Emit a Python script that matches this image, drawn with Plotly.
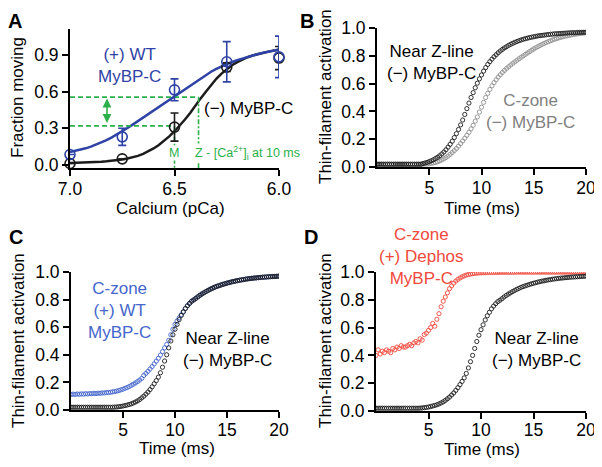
import plotly.graph_objects as go

# The page body adds an 8 px margin, so the figure is 8 px smaller than the window
OFF = 8
W, H = 602 - OFF, 467 - OFF
FONT = "Liberation Sans, Arial, sans-serif"

# ---------------- Panel A data ----------------
pca_points = [7.0, 6.75, 6.5, 6.25, 6.0]
wt_frac = [0.085, 0.23, 0.615, 0.845, 0.885]
wt_err = [0.0, 0.07, 0.09, 0.165, 0.17]
ko_frac = [0.012, 0.05, 0.31, 0.80, 0.875]
ko_err = [0.0, 0.0, 0.115, 0.035, 0.095]

pca_fit = [7.0, 6.975, 6.95, 6.925, 6.9, 6.875, 6.85, 6.825, 6.8, 6.775, 6.75,
           6.725, 6.7, 6.675, 6.65, 6.625, 6.6, 6.575, 6.55, 6.525, 6.5,
           6.475, 6.45, 6.425, 6.4, 6.375, 6.35, 6.325, 6.3, 6.275, 6.25,
           6.225, 6.2, 6.175, 6.15, 6.125, 6.1, 6.075, 6.05, 6.025, 6.0]
wt_fit = [0.105, 0.114, 0.124, 0.136, 0.150, 0.166, 0.184, 0.204, 0.226, 0.250, 0.275,
          0.302, 0.330, 0.359, 0.389, 0.419, 0.449, 0.479, 0.508, 0.536, 0.563,
          0.592, 0.622, 0.652, 0.682, 0.711, 0.738, 0.763, 0.786, 0.807, 0.826,
          0.843, 0.858, 0.872, 0.885, 0.897, 0.908, 0.918, 0.928, 0.937, 0.945]
ko_fit = [0.015, 0.016, 0.018, 0.020, 0.022, 0.024, 0.027, 0.030, 0.034, 0.039, 0.045,
          0.053, 0.062, 0.074, 0.090, 0.110, 0.135, 0.163, 0.196, 0.234, 0.276,
          0.322, 0.372, 0.425, 0.480, 0.545, 0.600, 0.655, 0.705, 0.748, 0.785,
          0.816, 0.842, 0.864, 0.882, 0.897, 0.909, 0.919, 0.928, 0.936, 0.943]

guide_frac_Z = 0.555
guide_frac_M = 0.32
guide_pca_M = 6.5
guide_pca_Z = 6.385
guide_pca_arrow = 6.823
axis_bottom_A = -0.025

# ---------------- Panels B-D data (sampled every 0.2 ms from 0 ms) ----------------
zline_B = [0.02] * 22 + [
    0.025, 0.029, 0.033, 0.039, 0.045, 0.052, 0.061, 0.070, 0.081, 0.094,
    0.108, 0.124, 0.143, 0.163, 0.186, 0.212, 0.240, 0.270, 0.303, 0.338,
    0.378, 0.420, 0.460, 0.500, 0.535, 0.570, 0.603, 0.634, 0.662, 0.690,
    0.715, 0.738, 0.758, 0.776, 0.793, 0.808, 0.822, 0.835, 0.846, 0.857,
    0.866, 0.875, 0.883, 0.890, 0.897, 0.903, 0.909, 0.914, 0.919, 0.923,
    0.927, 0.931, 0.934, 0.937, 0.940, 0.943, 0.945, 0.947, 0.949, 0.951,
    0.953, 0.955, 0.956, 0.958, 0.959, 0.960, 0.961, 0.962, 0.963, 0.964,
    0.965, 0.966, 0.966, 0.967, 0.968, 0.968, 0.969, 0.969, 0.970]

czone_ko_B = [0.02] * 23 + [
    0.021, 0.022, 0.024, 0.026, 0.029, 0.033, 0.038, 0.044, 0.051, 0.059,
    0.068, 0.079, 0.091, 0.104, 0.118, 0.133, 0.150, 0.168, 0.187, 0.207,
    0.228, 0.250, 0.274, 0.300, 0.330, 0.360, 0.395, 0.430, 0.465, 0.500,
    0.530, 0.558, 0.584, 0.607, 0.628, 0.647, 0.664, 0.680, 0.695, 0.709,
    0.722, 0.734, 0.746, 0.757, 0.768, 0.779, 0.790, 0.800, 0.810, 0.820,
    0.830, 0.840, 0.849, 0.858, 0.866, 0.874, 0.882, 0.889, 0.896, 0.902,
    0.908, 0.914, 0.919, 0.924, 0.929, 0.933, 0.937, 0.941, 0.944, 0.947,
    0.950, 0.953, 0.956, 0.958, 0.960, 0.962, 0.964, 0.966]

zline_CD = [0.02] * 21 + [
    0.021, 0.022, 0.024, 0.026, 0.029, 0.032, 0.036, 0.040, 0.045, 0.051,
    0.058, 0.066, 0.076, 0.088, 0.100, 0.115, 0.130, 0.148, 0.168, 0.190,
    0.213, 0.238, 0.270, 0.310, 0.355, 0.400, 0.450, 0.500, 0.545, 0.585,
    0.620, 0.655, 0.685, 0.710, 0.735, 0.755, 0.772, 0.787, 0.797, 0.808,
    0.820, 0.831, 0.841, 0.850, 0.859, 0.867, 0.875, 0.882, 0.889, 0.895,
    0.900, 0.905, 0.910, 0.915, 0.919, 0.923, 0.927, 0.931, 0.934, 0.937,
    0.940, 0.943, 0.945, 0.948, 0.950, 0.952, 0.954, 0.956, 0.957, 0.959,
    0.960, 0.962, 0.963, 0.964, 0.965, 0.966, 0.967, 0.968, 0.969, 0.970]

czone_wt_C = [
    0.112, 0.115, 0.113, 0.116, 0.114, 0.117, 0.115, 0.118, 0.116, 0.119,
    0.118, 0.121, 0.119, 0.122, 0.121, 0.124, 0.123, 0.126, 0.127, 0.129,
    0.131, 0.134, 0.137, 0.141, 0.146, 0.151, 0.157, 0.163, 0.170, 0.178,
    0.187, 0.196, 0.206, 0.217, 0.229, 0.250, 0.265, 0.280, 0.297, 0.315,
    0.334, 0.354, 0.375, 0.398, 0.423, 0.450, 0.475, 0.505, 0.545, 0.585,
    0.620, 0.645, 0.668, 0.690, 0.713, 0.736, 0.757, 0.773, 0.789, 0.799,
    0.810, 0.821, 0.832, 0.842, 0.851, 0.860, 0.868, 0.876, 0.883, 0.890,
    0.896, 0.901, 0.906, 0.911, 0.915, 0.920, 0.924, 0.928, 0.931, 0.935,
    0.938, 0.941, 0.943, 0.946, 0.949, 0.951, 0.953, 0.955, 0.956, 0.958,
    0.959, 0.961, 0.962, 0.963, 0.964, 0.965, 0.966, 0.967, 0.968, 0.969,
    0.970]

dephos_D = [
    0.40, 0.44, 0.41, 0.43, 0.42, 0.44, 0.43, 0.42, 0.45, 0.44,
    0.46, 0.45, 0.47, 0.46, 0.46, 0.47, 0.48, 0.47, 0.49, 0.50,
    0.49, 0.52, 0.51, 0.55, 0.56, 0.58, 0.60, 0.63, 0.61, 0.66,
    0.70, 0.75, 0.79, 0.82, 0.85, 0.88, 0.90, 0.92, 0.935, 0.947,
    0.957, 0.965, 0.972, 0.978, 0.982, 0.985, 0.988, 0.990, 0.992, 0.993,
    0.994, 0.995, 0.995, 0.996, 0.996, 0.997, 0.997, 0.997, 0.997, 0.998,
    0.998, 0.998, 0.998, 0.998, 0.998, 0.998, 0.999, 0.999, 0.999, 0.999,
    0.999, 0.999, 0.999, 0.999, 0.999, 0.999, 0.999, 0.999, 0.999, 0.999,
    0.999, 0.999, 0.999, 0.999, 0.999, 0.999, 0.999, 0.999, 0.999, 0.999,
    0.999, 0.999, 0.999, 0.999, 0.999, 0.999, 0.999, 0.999, 0.999, 0.999,
    0.999]


def times(arr):
    return [round(0.2 * i, 1) for i in range(len(arr))]


BLACK = "#1c1c1c"
GREY = "#8e8e8e"
BLUE_A = "#2f43a6"
BLUE_C = "#4566cc"
RED = "#f04a3c"
GREEN = "#2bb04a"

fig = go.Figure()

# ---- Panel A ----
fig.add_trace(go.Scatter(x=pca_fit, y=ko_fit, mode="lines", line=dict(color=BLACK, width=2.5),
                         xaxis="x", yaxis="y", showlegend=False, hoverinfo="skip"))
fig.add_trace(go.Scatter(x=pca_fit, y=wt_fit, mode="lines", line=dict(color=BLUE_A, width=2.5),
                         xaxis="x", yaxis="y", showlegend=False, hoverinfo="skip"))
# green guides
fig.add_trace(go.Scatter(x=[pca_fit[0], guide_pca_Z], y=[guide_frac_Z, guide_frac_Z], mode="lines",
                         line=dict(color=GREEN, width=1.6, dash="5px,3px"), xaxis="x", yaxis="y",
                         showlegend=False, hoverinfo="skip"))
fig.add_trace(go.Scatter(x=[pca_fit[0], guide_pca_M], y=[guide_frac_M, guide_frac_M], mode="lines",
                         line=dict(color=GREEN, width=1.6, dash="5px,3px"), xaxis="x", yaxis="y",
                         showlegend=False, hoverinfo="skip"))
fig.add_trace(go.Scatter(x=[guide_pca_M, guide_pca_M], y=[guide_frac_M, axis_bottom_A], mode="lines",
                         line=dict(color=GREEN, width=1.6, dash="5px,2px,2px,2px"), xaxis="x", yaxis="y",
                         showlegend=False, hoverinfo="skip"))
fig.add_trace(go.Scatter(x=[guide_pca_Z, guide_pca_Z], y=[guide_frac_Z, axis_bottom_A], mode="lines",
                         line=dict(color=GREEN, width=1.6, dash="5px,2px,2px,2px"), xaxis="x", yaxis="y",
                         showlegend=False, hoverinfo="skip"))
fig.add_trace(go.Scatter(x=pca_points, y=ko_frac, mode="markers",
                         marker=dict(symbol="circle-open", size=10, color=BLACK, line=dict(width=1.6)),
                         error_y=dict(type="data", array=ko_err, color=BLACK, thickness=1.6, width=4),
                         xaxis="x", yaxis="y", showlegend=False, cliponaxis=False))
fig.add_trace(go.Scatter(x=pca_points, y=wt_frac, mode="markers",
                         marker=dict(symbol="circle-open", size=10, color=BLUE_A, line=dict(width=1.6)),
                         error_y=dict(type="data", array=wt_err, color=BLUE_A, thickness=1.6, width=4),
                         xaxis="x", yaxis="y", showlegend=False, cliponaxis=False))

mk = dict(symbol="circle-open", size=4.2, line=dict(width=0.9))

# ---- Panel B ----
fig.add_trace(go.Scatter(x=times(czone_ko_B), y=czone_ko_B, mode="markers",
                         marker=dict(mk, color=GREY), xaxis="x2", yaxis="y2", showlegend=False))
fig.add_trace(go.Scatter(x=times(zline_B), y=zline_B, mode="markers",
                         marker=dict(mk, color=BLACK), xaxis="x2", yaxis="y2", showlegend=False))

# ---- Panel C ----
fig.add_trace(go.Scatter(x=times(czone_wt_C), y=czone_wt_C, mode="markers",
                         marker=dict(mk, color=BLUE_C), xaxis="x3", yaxis="y3", showlegend=False))
fig.add_trace(go.Scatter(x=times(zline_CD), y=zline_CD, mode="markers",
                         marker=dict(mk, color=BLACK), xaxis="x3", yaxis="y3", showlegend=False))

# ---- Panel D ----
fig.add_trace(go.Scatter(x=times(dephos_D), y=dephos_D, mode="markers",
                         marker=dict(mk, color=RED), xaxis="x4", yaxis="y4", showlegend=False))
fig.add_trace(go.Scatter(x=times(zline_CD), y=zline_CD, mode="markers",
                         marker=dict(mk, color=BLACK), xaxis="x4", yaxis="y4", showlegend=False))


# helpers: convert window pixel positions to paper fractions
def px_x(p):
    return (p - OFF) / W


def px_y(p):
    return 1 - (p - OFF) / H


def xdom(a, b):
    return [px_x(a), px_x(b)]


def ydom(top, bottom):
    return [px_y(bottom), px_y(top)]


axis_common = dict(showline=True, linecolor="black", linewidth=2, ticks="outside", ticklen=6,
                   tickwidth=1.8, tickcolor="black", showgrid=False, zeroline=False, automargin=False,
                   tickfont=dict(family=FONT, size=17.5, color="black"), fixedrange=True)
xaxis_top = dict(axis_common, ticklabelstandoff=-2)
xaxis_bot = dict(axis_common, ticklabelstandoff=-3)
xaxis_botD = dict(axis_common, ticklabelstandoff=-4)

fig.update_layout(
    width=W, height=H, autosize=False,
    margin=dict(l=0, r=0, t=0, b=0, pad=0, autoexpand=False),
    showlegend=False,
    paper_bgcolor="white", plot_bgcolor="white",
    font=dict(family=FONT, size=17, color="black"),
    xaxis=dict(xaxis_top, domain=xdom(70, 279), range=[7.0, 6.0], tickvals=[7.0, 6.5, 6.0],
               ticktext=["7.0", "6.5", "6.0"], anchor="y"),
    yaxis=dict(axis_common, domain=ydom(29, 168), range=[axis_bottom_A, 1.113],
               tickvals=[0, 0.3, 0.6, 0.9], ticktext=["0.0", "0.3", "0.6", "0.9"], anchor="x"),
    xaxis2=dict(xaxis_top, domain=xdom(377, 586), range=[0, 20], tickvals=[5, 10, 15, 20], anchor="y2"),
    yaxis2=dict(axis_common, domain=ydom(28, 167), range=[0, 1], tickvals=[0, 0.2, 0.4, 0.6, 0.8, 1.0],
                tickformat=".1f", anchor="x2"),
    xaxis3=dict(xaxis_bot, domain=xdom(71, 279), range=[0, 20], tickvals=[5, 10, 15, 20], anchor="y3"),
    yaxis3=dict(axis_common, domain=ydom(272, 410), range=[0, 1], tickvals=[0, 0.2, 0.4, 0.6, 0.8, 1.0],
                tickformat=".1f", anchor="x3"),
    xaxis4=dict(xaxis_botD, domain=xdom(376, 586), range=[0, 20], tickvals=[5, 10, 15, 20], anchor="y4"),
    yaxis4=dict(axis_common, domain=ydom(272, 411), range=[0, 1], tickvals=[0, 0.2, 0.4, 0.6, 0.8, 1.0],
                tickformat=".1f", anchor="x4"),
)

ann = []


def text(px, py, s, color="black", size=17, angle=0, bold=False, xanchor="center", yanchor="middle", bg=None):
    d = dict(x=px_x(px), y=px_y(py), xref="paper", yref="paper", text=(f"<b>{s}</b>" if bold else s),
             showarrow=False, xanchor=xanchor, yanchor=yanchor, textangle=angle,
             font=dict(family=FONT, size=size, color=color))
    if bg:
        d["bgcolor"] = bg
        d["borderpad"] = 0
    ann.append(d)


# panel letters (top row anchored to the top of the figure so they are not clipped)
text(15, OFF, "A", size=20, bold=True, yanchor="top")
text(307, OFF, "B", size=20, bold=True, yanchor="top")
text(16, 237, "C", size=20, bold=True)
text(311, 237, "D", size=20, bold=True)

# axis titles
text(18, 98, "Fraction moving", angle=-90)
text(170, 208, "Calcium (pCa)")
text(325, 97, "Thin-filament activation", angle=-90)
text(482, 208, "Time (ms)")
text(18, 341, "Thin-filament activation", angle=-90)
text(177, 448, "Time (ms)")
text(325, 341, "Thin-filament activation", angle=-90)
text(482, 449, "Time (ms)")

# panel A labels
text(129, 65, "(+) WT<br>MyBP-C", color=BLUE_A)
text(248, 108, "(−) MyBP-C")
text(174, 153, "M", color=GREEN, size=12.5, bg="white")
text(194, 153, "Z - [Ca<sup>2+</sup>]<sub>i</sub> at 10 ms", color=GREEN, size=12.5, xanchor="left", bg="white")

# panel B labels
text(431, 62, "Near Z-line<br>(−) MyBP-C")
text(530, 111, "C-zone<br>(−) MyBP-C", color="#808080")

# panel C labels
text(119, 310, "C-zone<br>(+) WT<br>MyBP-C", color=BLUE_C)
text(227, 349, "Near Z-line<br>(−) MyBP-C")

# panel D labels
text(421, 257, "C-zone<br>(+) Dephos<br>MyBP-C", color=RED)
text(536, 349, "Near Z-line<br>(−) MyBP-C")

# green double arrow
ann.append(dict(x=guide_pca_arrow, y=guide_frac_Z - 0.012, ax=guide_pca_arrow, ay=guide_frac_M + 0.012,
                xref="x", yref="y", axref="x", ayref="y", showarrow=True, arrowhead=2,
                arrowside="end+start", arrowsize=1.1, arrowwidth=1.6, arrowcolor=GREEN, text=""))

fig.update_layout(annotations=ann)

fig.write_html("out.html")
